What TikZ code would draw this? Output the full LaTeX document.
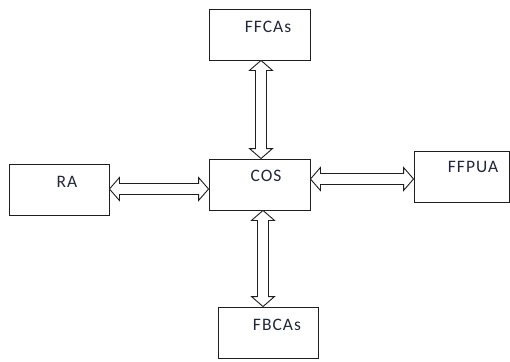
\documentclass[tikz,border=0pt]{standalone}
\usepackage{fontspec}
\setmainfont{Carlito}
\newfontfamily\lblfont[LetterSpace=6]{Carlito}
\usetikzlibrary{calc}
\definecolor{ink}{HTML}{1E1E1E}
\definecolor{txt}{HTML}{22263A}
\tikzset{
  box/.style={draw=ink, line width=0.9pt, rectangle, inner sep=0pt},
  lbl/.style={font=\lblfont\fontsize{17.5}{17.5}\selectfont, text=txt, inner sep=0pt},
  hollow/.style={draw=ink, line width=0.9pt, fill=white, line join=miter,
    to path={
      (\tikztostart)
      -- ($(\tikztostart)!10pt!(\tikztotarget)!11.5pt!90:(\tikztotarget)$)
      -- ($(\tikztostart)!10pt!(\tikztotarget)!5.5pt!90:(\tikztotarget)$)
      -- ($(\tikztotarget)!10pt!(\tikztostart)!5.5pt!-90:(\tikztostart)$)
      -- ($(\tikztotarget)!10pt!(\tikztostart)!11.5pt!-90:(\tikztostart)$)
      -- (\tikztotarget)
      -- ($(\tikztotarget)!10pt!(\tikztostart)!11.5pt!90:(\tikztostart)$)
      -- ($(\tikztotarget)!10pt!(\tikztostart)!5.5pt!90:(\tikztostart)$)
      -- ($(\tikztostart)!10pt!(\tikztotarget)!5.5pt!-90:(\tikztotarget)$)
      -- ($(\tikztostart)!10pt!(\tikztotarget)!11.5pt!-90:(\tikztotarget)$)
      -- cycle
    }}
}
\begin{document}
\begin{tikzpicture}[x=1pt,y=-1pt]
\useasboundingbox (0,0) rectangle (510,361);
% boxes
\node[box, minimum width=101pt, minimum height=51pt] (ffcas) at (259.5,34.5) {};
\node[box, minimum width=101pt, minimum height=51pt] (cos) at (259.5,184.5) {};
\node[box, minimum width=100pt, minimum height=51pt] (ra) at (59,189.5) {};
\node[box, minimum width=95pt, minimum height=51pt] (ffpua) at (461.5,176.5) {};
\node[box, minimum width=100pt, minimum height=51pt] (fbcas) at (268,332.5) {};
% labels
\node[lbl] (tffcas) at (268,27) {FFCAs};
\node[lbl] (tcos) at (266,176) {COS};
\node[lbl] (tra) at (67,182) {RA};
\node[lbl] (tffpua) at (473,167) {FFPUA};
\node[lbl] (tfbcas) at (277,325) {FBCAs};
% connector axes
\coordinate (vup) at (261,0);
\coordinate (vdn) at (263,0);
\coordinate (hl) at (0,189);
\coordinate (hr) at (0,179);
% arrows
\draw[hollow] (ffcas.south -| vup) to (cos.north -| vup);
\draw[hollow] (cos.south -| vdn) to (fbcas.north -| vdn);
\draw[hollow] (ra.east |- hl) to (cos.west |- hl);
\draw[hollow] (cos.east |- hr) to (ffpua.west |- hr);
\end{tikzpicture}
\end{document}
